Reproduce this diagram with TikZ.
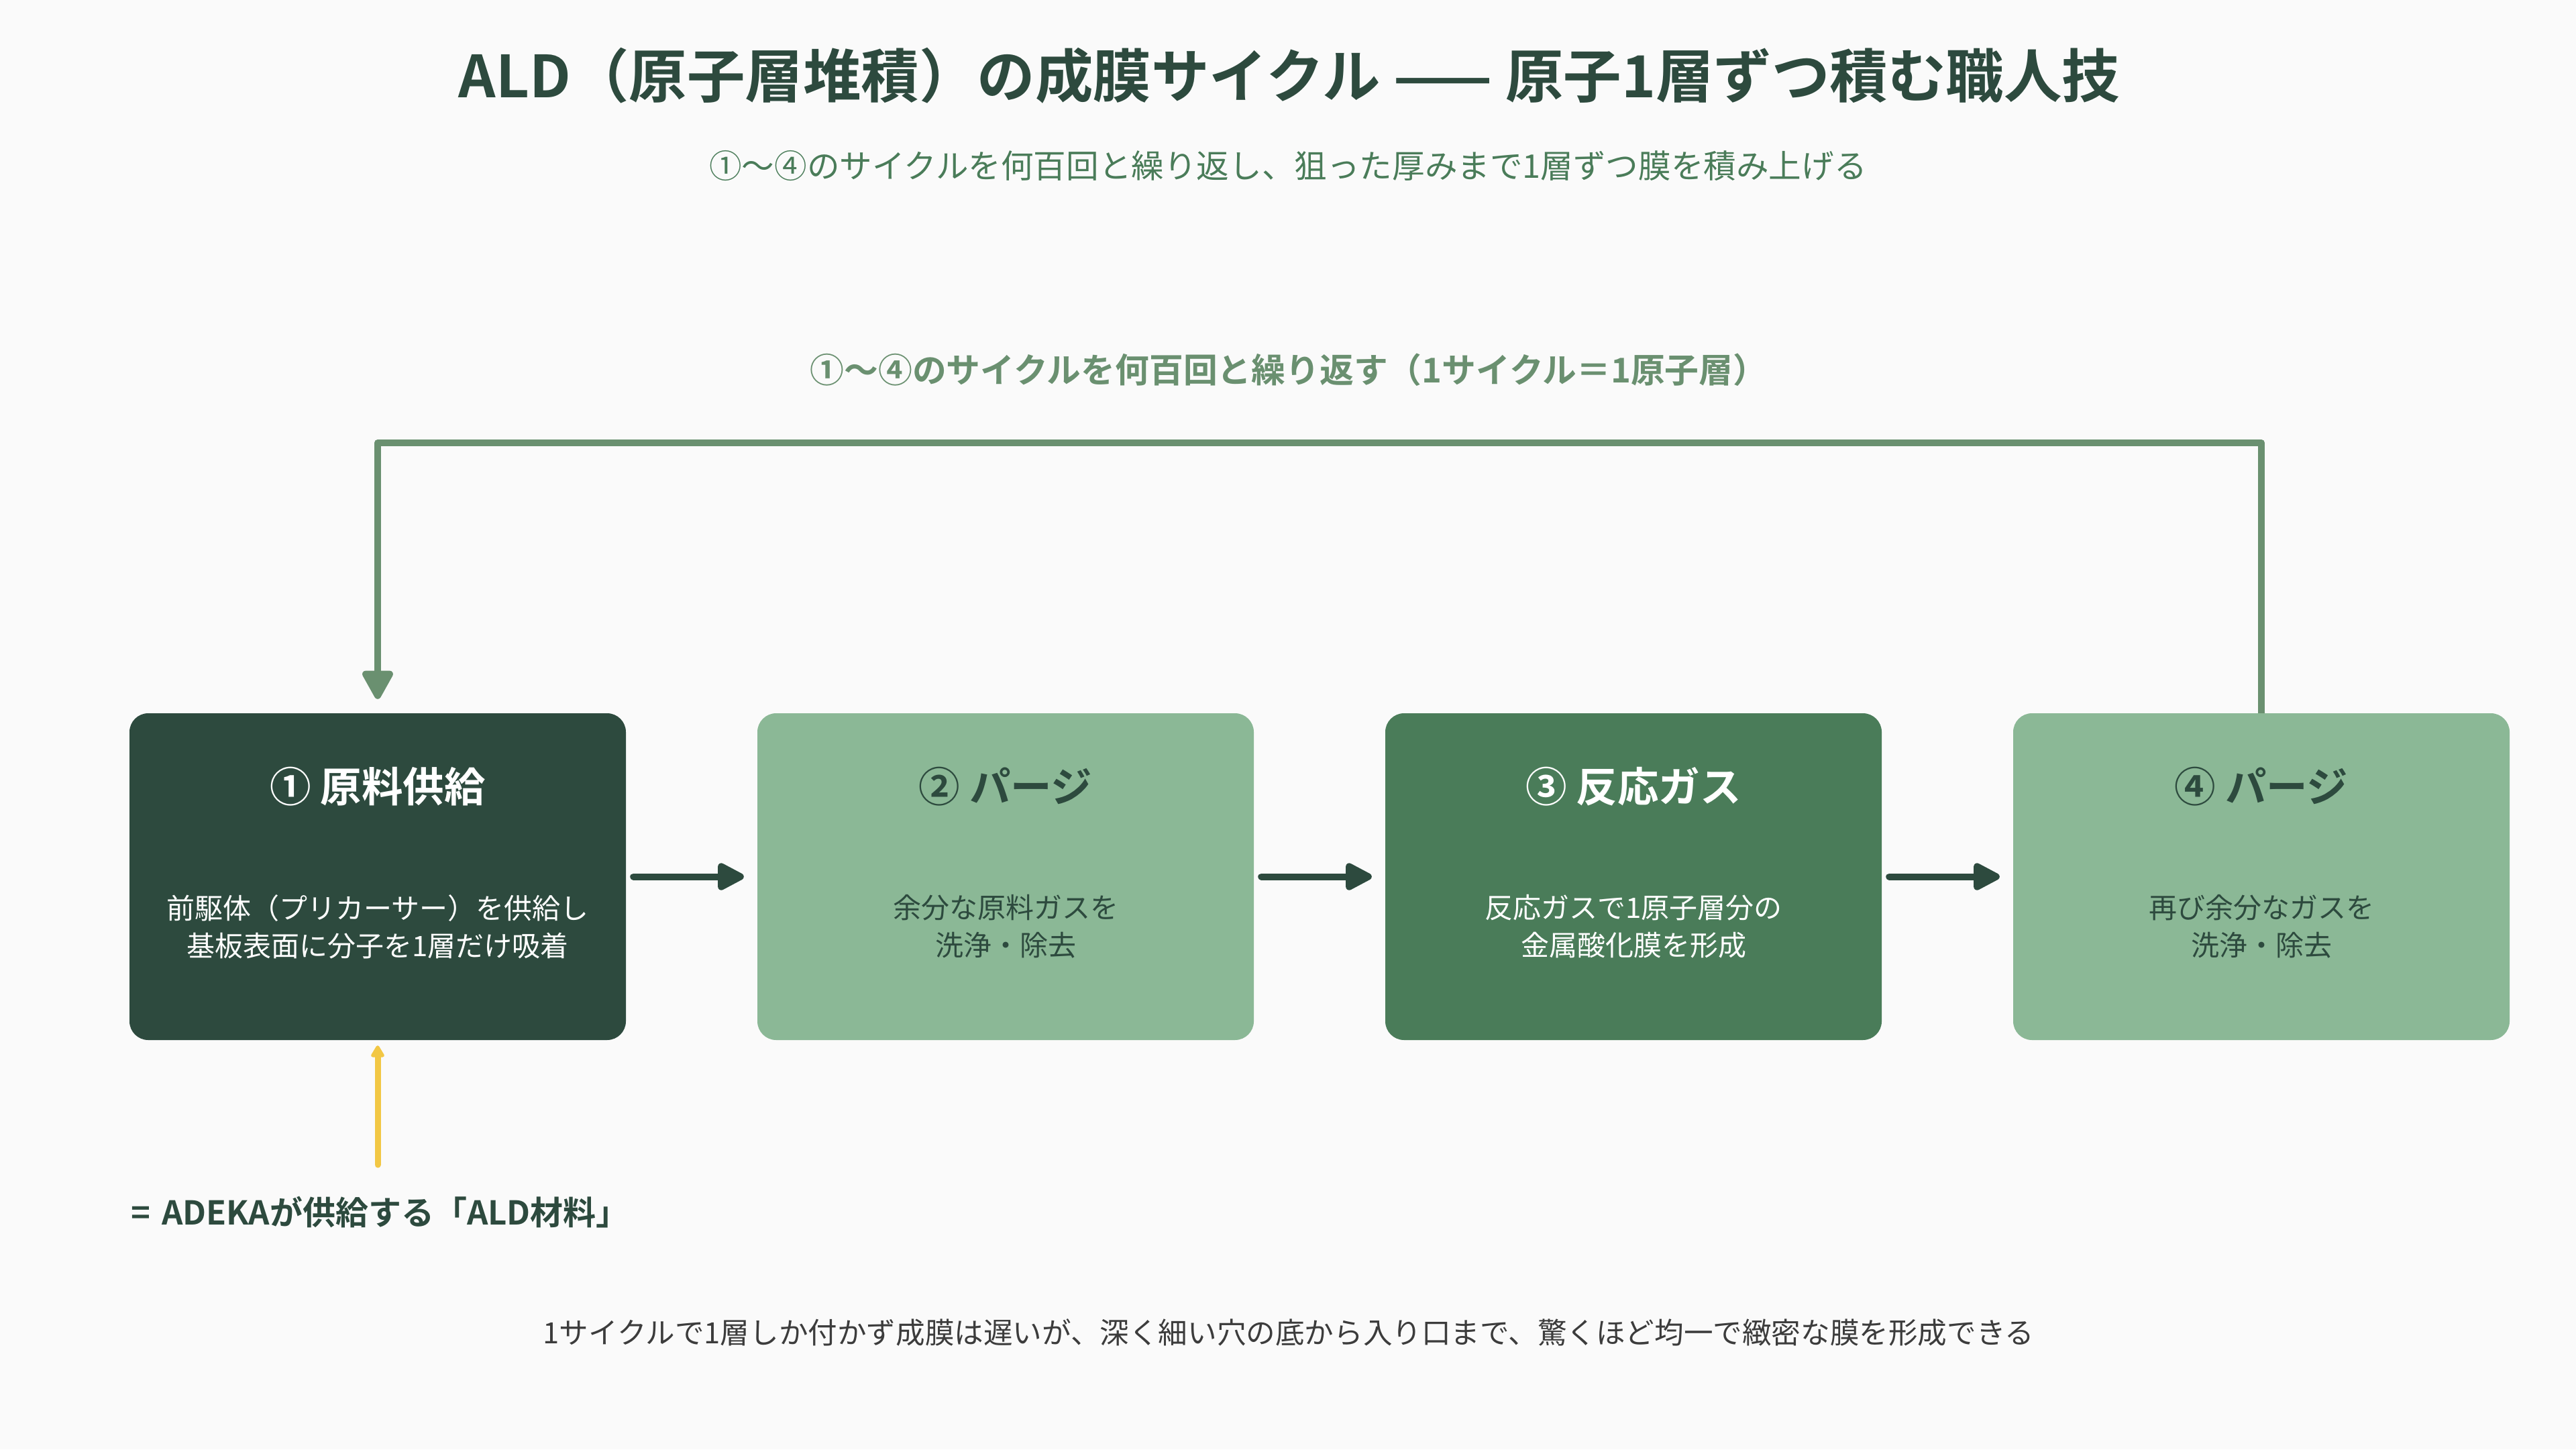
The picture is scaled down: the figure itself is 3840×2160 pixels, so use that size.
\documentclass[tikz,border=0pt]{standalone}
\usepackage{fontspec}
\setmainfont{Noto Sans CJK JP}[BoldFont={Noto Sans CJK JP Bold}]
\usetikzlibrary{arrows.meta}
\definecolor{bg}{HTML}{FAFAFA}
\definecolor{dark}{HTML}{2D4A3E}
\definecolor{mid}{HTML}{4A7C59}
\definecolor{light}{HTML}{8BB896}
\definecolor{loopc}{HTML}{6A9070}
\definecolor{gold}{HTML}{F2C744}
\definecolor{note}{HTML}{3C3C3C}
\tikzset{
  stepbox/.style={rectangle, rounded corners=28pt, minimum width=740pt, minimum height=487pt, inner sep=0pt},
  headtxt/.style={font=\fontsize{61.5}{72}\selectfont\bfseries, inner sep=0pt},
  bodytxt/.style={font=\fontsize{42}{56}\selectfont, align=center, inner sep=0pt},
  flow/.style={draw=dark, line width=10pt, line cap=round, -{Triangle[length=45pt,width=44pt,round]}},
  loopline/.style={draw=loopc, line width=10pt, line join=round, -{Triangle[length=48pt,width=50pt,round]}},
  supply/.style={draw=gold, line width=9pt, line cap=round, -{Triangle[length=20pt,width=22pt,round]}},
}
\begin{document}
\begin{tikzpicture}[x=1pt,y=-1pt]
\useasboundingbox (0,0) rectangle (3840,2160);
\fill[bg] (0,0) rectangle (3840,2160);

\node[font=\fontsize{86.5}{104}\selectfont\bfseries, text=dark, inner sep=0pt] (title) at (1922,113) {ALD（原子層堆積）の成膜サイクル —— 原子1層ずつ積む職人技};
\node[font=\fontsize{48.6}{58}\selectfont, text=mid, inner sep=0pt] (sub) at (1920,247) {①〜④のサイクルを何百回と繰り返し、狙った厚みまで1層ずつ膜を積み上げる};

\node[font=\fontsize{50.8}{60}\selectfont\bfseries, text=loopc, inner sep=0pt] (looplabel) at (1921,551) {①〜④のサイクルを何百回と繰り返す（1サイクル＝1原子層）};

\node[stepbox, fill=dark] (b1) at (563,1306.5) {};
\node[stepbox, fill=light] (b2) at (1499,1306.5) {};
\node[stepbox, fill=mid] (b3) at (2435,1306.5) {};
\node[stepbox, fill=light] (b4) at (3371,1306.5) {};

\node[headtxt, text=white] (h1) at (563,1172) {① 原料供給};
\node[headtxt, text=dark] (h2) at (1499,1172) {② パージ};
\node[headtxt, text=white] (h3) at (2435,1172) {③ 反応ガス};
\node[headtxt, text=dark] (h4) at (3371,1172) {④ パージ};

\node[bodytxt, text=white] (t1) at (563,1381) {前駆体（プリカーサー）を供給し\\基板表面に分子を1層だけ吸着};
\node[bodytxt, text=dark] (t2) at (1499,1381) {余分な原料ガスを\\洗浄・除去};
\node[bodytxt, text=white] (t3) at (2435,1381) {反応ガスで1原子層分の\\金属酸化膜を形成};
\node[bodytxt, text=dark] (t4) at (3371,1381) {再び余分なガスを\\洗浄・除去};

\draw[flow, shorten <=11pt, shorten >=20pt] (b1.east) -- (b2.west);
\draw[flow, shorten <=11pt, shorten >=20pt] (b2.east) -- (b3.west);
\draw[flow, shorten <=11pt, shorten >=20pt] (b3.east) -- (b4.west);

\coordinate (looptop) at (3371,660);
\draw[loopline, shorten >=21pt] (b4.north) -- (looptop) -| (b1.north);

\coordinate (supplystart) at (563,1736);
\draw[supply, shorten >=8pt] (supplystart) -- (b1.south);

\node[font=\fontsize{49}{60}\selectfont\bfseries, text=dark, anchor=west, inner sep=0pt] (adeka) at (195,1807) {=\hspace{6pt} ADEKAが供給する「ALD材料」};

\node[font=\fontsize{43.6}{52}\selectfont, text=note, inner sep=0pt] (bottom) at (1921,1986) {1サイクルで1層しか付かず成膜は遅いが、深く細い穴の底から入り口まで、驚くほど均一で緻密な膜を形成できる};
\end{tikzpicture}
\end{document}
